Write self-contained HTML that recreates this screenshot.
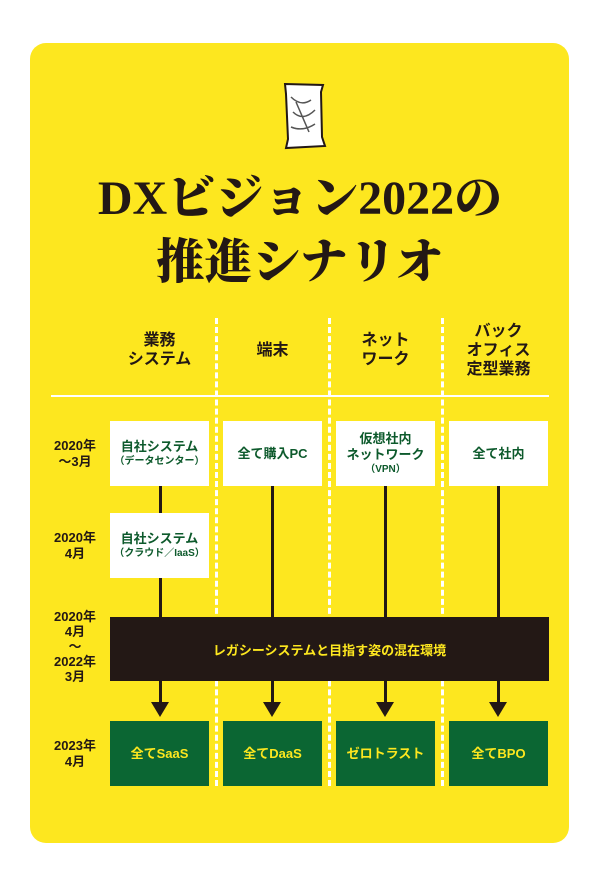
<!DOCTYPE html>
<html><head><meta charset="utf-8"><style>
body{margin:0;width:600px;height:881px;background:#fff;position:relative;overflow:hidden;font-family:"Liberation Sans","Noto Sans CJK JP",sans-serif;}
.card{position:absolute;left:30px;top:43px;width:539px;height:800px;background:#fde71f;border-radius:16px;}
.a{position:absolute;}
.t{position:absolute;left:0;width:600px;text-align:center;font-family:"Liberation Serif","Noto Serif CJK JP",serif;font-weight:900;color:#231815;font-size:48px;line-height:54px;}
.h{position:absolute;text-align:center;font-weight:bold;font-size:16px;line-height:19px;color:#231815;width:113px;}
.dl{position:absolute;top:318px;height:468px;border-left:3px dashed #fff;width:0;}
.box{position:absolute;width:99px;height:65px;background:#fff;color:#0d5a2c;font-weight:bold;display:flex;align-items:center;justify-content:center;font-size:13px;line-height:16px;}
.box>div{text-align:center;white-space:nowrap;}
.g{background:#0b6633;color:#fde71f;font-size:13px;}
.vl{position:absolute;width:3px;background:#231815;}
.ar{position:absolute;width:0;height:0;border-left:9px solid transparent;border-right:9px solid transparent;border-top:15px solid #231815;top:702px;}
.rl{position:absolute;left:40px;width:70px;text-align:center;font-weight:bold;font-size:13px;line-height:16px;color:#231815;}
.s{font-size:10px;line-height:13px;}
</style></head><body>
<div class="card"></div>
<svg class="a" style="left:281px;top:82px" width="46" height="68" viewBox="0 0 46 68"><path d="M4 2 L42 3 L40 10 L41 55 L44 64 L5 66 L7 57 L5 12 Z" fill="#fff" stroke="#231815" stroke-width="2"/><path d="M10 15 Q20 25 30 18 M12 30 Q22 40 34 28 M10 45 Q22 50 34 42 M15 20 L28 50" stroke="#555" stroke-width="1.5" fill="none"/></svg>
<div class="t" style="top:172px">DXビジョン2022の</div>
<div class="t" style="top:236px">推進シナリオ</div>
<div class="h" style="left:103px;top:331px">業務<br>システム</div>
<div class="h" style="left:216px;top:341px">端末</div>
<div class="h" style="left:329px;top:331px">ネット<br>ワーク</div>
<div class="h" style="left:442px;top:322px">バック<br>オフィス<br>定型業務</div>
<div class="a" style="left:51px;top:395px;width:498px;height:2px;background:#fff"></div>
<div class="dl" style="left:215px"></div>
<div class="dl" style="left:328px"></div>
<div class="dl" style="left:441px"></div>
<div class="vl" style="left:159px;top:486px;height:27px"></div>
<div class="vl" style="left:159px;top:578px;height:126px"></div>
<div class="vl" style="left:271px;top:486px;height:218px"></div>
<div class="vl" style="left:384px;top:486px;height:218px"></div>
<div class="vl" style="left:497px;top:486px;height:218px"></div>
<div class="ar" style="left:151px"></div>
<div class="ar" style="left:263px"></div>
<div class="ar" style="left:376px"></div>
<div class="ar" style="left:489px"></div>
<div class="box" style="left:110px;top:421px"><div>自社システム<div class="s">（データセンター）</div></div></div>
<div class="box" style="left:223px;top:421px"><div>全て購入PC</div></div>
<div class="box" style="left:336px;top:421px"><div>仮想社内<br>ネットワーク<div class="s">（VPN）</div></div></div>
<div class="box" style="left:449px;top:421px"><div>全て社内</div></div>
<div class="box" style="left:110px;top:513px"><div>自社システム<div class="s">（クラウド／IaaS）</div></div></div>
<div class="a" style="left:110px;top:617px;width:439px;height:64px;background:#231815;color:#fde71f;font-weight:bold;font-size:13px;display:flex;align-items:center;justify-content:center">レガシーシステムと目指す姿の混在環境</div>
<div class="box g" style="left:110px;top:721px"><div>全てSaaS</div></div>
<div class="box g" style="left:223px;top:721px"><div>全てDaaS</div></div>
<div class="box g" style="left:336px;top:721px"><div>ゼロトラスト</div></div>
<div class="box g" style="left:449px;top:721px"><div>全てBPO</div></div>
<div class="rl" style="top:438px">2020年<br>～3月</div>
<div class="rl" style="top:530px">2020年<br>4月</div>
<div class="rl" style="top:609px;line-height:15px">2020年<br>4月<br>～<br>2022年<br>3月</div>
<div class="rl" style="top:738px">2023年<br>4月</div>
</body></html>
